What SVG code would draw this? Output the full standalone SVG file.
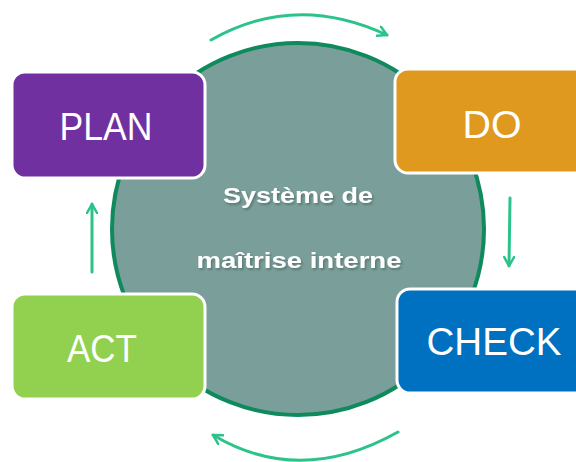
<svg xmlns="http://www.w3.org/2000/svg" width="576" height="462" viewBox="0 0 576 462">
<style>
.box{stroke:#fff;stroke-width:3}
.lbl{font-family:"Liberation Sans",Arial,sans-serif;font-size:38px;fill:#fff;text-anchor:middle}
.ctr{font-family:"Liberation Sans",Arial,sans-serif;font-size:22px;font-weight:bold;fill:#fff;text-anchor:middle;filter:url(#ds)}
.arr{fill:none;stroke:#2cc38b;stroke-width:3;stroke-linecap:round;marker-end:url(#ah)}
</style>
<defs>
<filter id="ds" x="-10%" y="-30%" width="120%" height="160%">
<feDropShadow dx="1.5" dy="2" stdDeviation="0.8" flood-color="#3d5552" flood-opacity="0.55"/>
</filter>
<marker id="ah" viewBox="0 0 12 12" refX="10" refY="6" markerWidth="12" markerHeight="12" markerUnits="userSpaceOnUse" orient="auto">
<polyline points="1,1 10,6 1,11" fill="none" stroke="#2cc38b" stroke-width="2.5" stroke-linecap="round" stroke-linejoin="round"/>
</marker>
</defs>
<rect width="576" height="462" fill="#fff"/>
<g id="core">
<circle cx="298" cy="229" r="186" fill="#7a9f9b" stroke="#0f8a5d" stroke-width="4"/>
<text class="ctr" x="298" y="203" textLength="150" lengthAdjust="spacingAndGlyphs">Système de</text>
<text class="ctr" x="299" y="268" textLength="205" lengthAdjust="spacingAndGlyphs">maîtrise interne</text>
</g>
<g id="plan">
<rect class="box" x="12" y="72" width="193" height="106" rx="13" fill="#7030a0"/>
<text class="lbl" x="106" y="140" textLength="93" lengthAdjust="spacingAndGlyphs">PLAN</text>
</g>
<g id="do">
<rect class="box" x="395" y="69" width="200" height="104" rx="13" fill="#e0991f"/>
<text class="lbl" x="492" y="138" textLength="59" lengthAdjust="spacingAndGlyphs">DO</text>
</g>
<g id="check">
<rect class="box" x="397" y="289" width="200" height="104" rx="13" fill="#0070c0"/>
<text class="lbl" x="494" y="355" textLength="135" lengthAdjust="spacingAndGlyphs">CHECK</text>
</g>
<g id="act">
<rect class="box" x="12" y="294" width="193" height="105" rx="13" fill="#92d050"/>
<text class="lbl" x="102" y="362" textLength="70" lengthAdjust="spacingAndGlyphs">ACT</text>
</g>
<g id="connectors">
<path class="arr" d="M211,40 Q295,-8 387,35"/>
<path class="arr" d="M510,198 L509,266"/>
<path class="arr" d="M398,432 Q300,487 213,435"/>
<path class="arr" d="M92,272 L92,204"/>
</g>
</svg>
